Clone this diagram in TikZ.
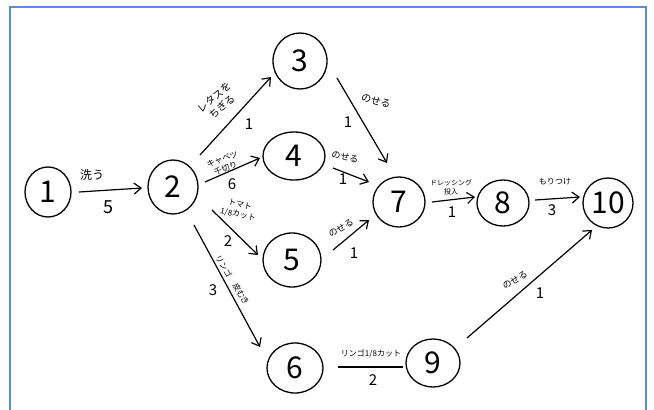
\documentclass[tikz,border=0pt]{standalone}
\usepackage{fontspec}
\setmainfont{Noto Sans CJK JP}
\usetikzlibrary{arrows.meta,shapes.geometric}
\definecolor{frameblue}{RGB}{91,143,217}
\begin{document}
\begin{tikzpicture}[x=1pt,y=-1pt,
  ev/.style={draw,ellipse,line width=1.3pt,inner sep=0pt,font=\fontsize{30}{30}\selectfont},
  act/.style={line width=1.2pt,-{Straight Barb[length=7pt,width=11pt,line width=1.2pt]}},
  plain/.style={line width=1.2pt},
  lbl/.style={inner sep=0pt,align=center,font=\fontsize{9}{10}\selectfont},
  num/.style={inner sep=0pt,font=\fontsize{15}{15}\selectfont}]
\useasboundingbox (0,0) rectangle (654,410);
\draw[frameblue,line width=2pt] (10,411) -- (10,7) -- (645.5,7) -- (645.5,411);

% events
\node[ev,minimum width=46,minimum height=50] (n1) at (48,192) {1};
\node[ev,minimum width=50,minimum height=54] (n2) at (173,187) {2};
\node[ev,minimum width=54,minimum height=56] (n3) at (300,61) {3};
\node[ev,minimum width=62,minimum height=48] (n4) at (294,156) {4};
\node[ev,minimum width=58,minimum height=54] (n5) at (292,260) {5};
\node[ev,minimum width=56,minimum height=50] (n6) at (295,368) {6};
\node[ev,minimum width=52,minimum height=50] (n7) at (399,202) {7};
\node[ev,minimum width=52,minimum height=46] (n8) at (503,203) {8};
\node[ev,minimum width=54,minimum height=48] (n9) at (433,363) {9};
\node[ev,minimum width=50,minimum height=50] (n10) at (608,203) {10};

% activities
\draw[act] ([shift={(31,0)}]n1.center) -- ([shift={(-31,1)}]n2.center);
\draw[act] ([shift={(27,-32)}]n2.center) -- ([shift={(-29,16)}]n3.center);
\draw[act] ([shift={(32,-5)}]n2.center) -- ([shift={(-34,2)}]n4.center);
\draw[act] ([shift={(39,23)}]n2.center) -- ([shift={(-34,-5)}]n5.center);
\draw[act] ([shift={(21,38)}]n2.center) -- ([shift={(-35,-21)}]n6.center);
\draw[act] ([shift={(37,17)}]n3.center) -- ([shift={(-12,-39)}]n7.center);
\draw[act] ([shift={(39,12)}]n4.center) -- ([shift={(-30,-20)}]n7.center);
\draw[act] ([shift={(41,-10)}]n5.center) -- ([shift={(-30,18)}]n7.center);
\draw[act] ([shift={(33,0)}]n7.center) -- ([shift={(-28,-6)}]n8.center);
\draw[act] ([shift={(32,-3)}]n8.center) -- ([shift={(-28,-6)}]n10.center);
\draw[plain] ([shift={(43,-1)}]n6.center) -- ([shift={(-30,4)}]n9.center);
\draw[act] ([shift={(34,-25)}]n9.center) -- ([shift={(-16,27)}]n10.center);

% labels
\node[lbl,font=\fontsize{12}{12}\selectfont] (l12) at (92,175) {洗う};
\node[num,font=\fontsize{18}{18}\selectfont] (d12) at (108,207) {5};

\node[lbl,rotate=40,font=\fontsize{10}{12}\selectfont] (l23) at (218,102) {レタスを\\ちぎる};
\node[num] (d23) at (249,124) {1};

\node[lbl,rotate=20,font=\fontsize{8}{10}\selectfont] (l24) at (224,164) {キャベツ\\千切り};
\node[num] (d24) at (232,184) {6};

\node[lbl,rotate=-12,font=\fontsize{8}{10}\selectfont] (l25) at (239,210) {トマト\\1/8カット};
\node[num] (d25) at (228,241) {2};

\node[lbl,rotate=-60,font=\fontsize{8}{8}\selectfont] (l26a) at (224,266) {リンゴ};
\node[lbl,rotate=-60,font=\fontsize{8}{8}\selectfont] (l26b) at (241,294) {皮むき};
\node[num] (d26) at (213,290) {3};

\node[lbl,rotate=-15,font=\fontsize{10}{10}\selectfont] (l37) at (376,101) {のせる};
\node[num] (d37) at (348,122) {1};

\node[lbl,rotate=-10,font=\fontsize{9}{9}\selectfont] (l47) at (345,157) {のせる};
\node[num] (d47) at (343,179) {1};

\node[lbl,rotate=30,font=\fontsize{9}{9}\selectfont] (l57) at (341,228) {のせる};
\node[num] (d57) at (354,253) {1};

\node[lbl,font=\fontsize{7}{9}\selectfont] (l78) at (451,187) {ドレッシング\\投入};
\node[num] (d78) at (452,212) {1};

\node[lbl,font=\fontsize{8}{8}\selectfont] (l810) at (555,182) {もりつけ};
\node[num] (d810) at (552,210) {3};

\node[lbl,font=\fontsize{8}{8}\selectfont] (l69) at (371,354) {リンゴ1/8カット};
\node[num] (d69) at (373,380) {2};

\node[lbl,rotate=30,font=\fontsize{9}{9}\selectfont] (l910) at (515,280) {のせる};
\node[num] (d910) at (540,293) {1};
\end{tikzpicture}
\end{document}
